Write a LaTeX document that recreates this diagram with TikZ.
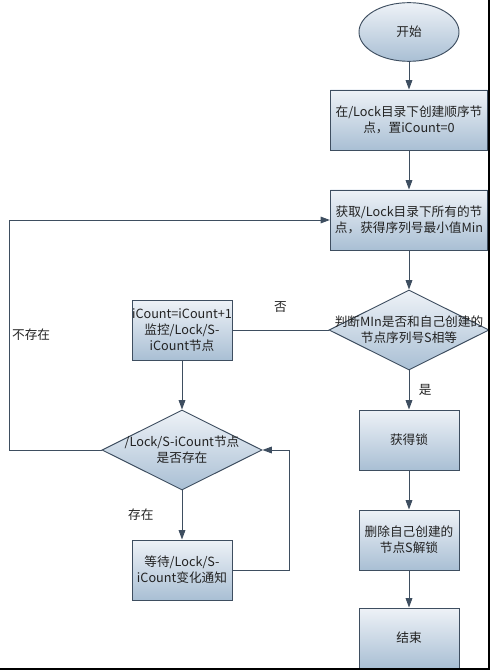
\documentclass[tikz,border=0pt]{standalone}
\usepackage{fontspec}
\setmainfont{Noto Sans CJK SC}
\usetikzlibrary{arrows.meta,shapes.geometric}
\definecolor{edgec}{HTML}{3E4E60}
\definecolor{filltop}{HTML}{EEF2F7}
\definecolor{fillbot}{HTML}{A9BFD4}
\definecolor{txtc}{HTML}{222222}

\begin{document}
\begin{tikzpicture}[>={Triangle[length=7pt,width=5pt]},x=0.75pt,y=-0.75pt,font=\fontsize{9.5}{12}\selectfont,
  proc/.style={draw=edgec,line width=0.7pt,top color=filltop,bottom color=fillbot,align=center,inner sep=0pt,minimum height=45pt,text=txtc},
  wide/.style={text width=118pt},
  narrow/.style={text width=75pt},
  decision/.style={draw=edgec,line width=0.7pt,diamond,top color=filltop,bottom color=fillbot,minimum width=120pt,minimum height=60pt,inner sep=0pt},
  terminal/.style={draw=edgec,line width=0.7pt,ellipse,top color=filltop,bottom color=fillbot,minimum width=75pt,minimum height=44pt,inner sep=0pt,text=txtc},
  link/.style={draw=edgec,line width=0.7pt},
  lbl/.style={text=txtc,align=center,inner sep=1pt}]
\useasboundingbox (0,0) rectangle (491,670);
% right column
\node[terminal] (start) at (409,32) {开始};
\node[proc,wide] (init) at (409,120) {在/Lock目录下创建顺序节\\点，置iCount=0};
\node[proc,wide] (fetch) at (409,220) {获取/Lock目录下所有的节\\点，获得序列号最小值Min};
\node[decision,label={[lbl]center:判断MIn是否和自己创建的\\节点序列号S相等}] (cmp) at (409,330) {};
\node[proc,narrow] (lock) at (409,440) {获得锁};
\node[proc,narrow] (del) at (409,540) {删除自己创建的\\节点S解锁};
\node[proc,narrow] (end) at (409,638) {结束};
% left column
\node[proc,narrow] (watch) at (182,330) {iCount=iCount+1\\监控/Lock/S-\\iCount节点};
\node[decision,label={[lbl]center:/Lock/S-iCount节点\\是否存在}] (exist) at (182,450) {};
\node[proc,narrow] (wait) at (182,570) {等待/Lock/S-\\iCount变化通知};
\coordinate (loopB) at (9,450);
\coordinate (loopT) at (9,220);
\coordinate (backR) at (289,570);

\draw[link,->] (start) -- (init);
\draw[link,->] (init) -- (fetch);
\draw[link,->] (fetch) -- (cmp);
\draw[link,->] (cmp) -- node[lbl,midway,right=6pt]{是} (lock);
\draw[link,->] (lock) -- (del);
\draw[link,->] (del) -- (end);
\draw[link] (cmp.west) -- node[lbl,midway,yshift=17pt]{否} (watch.east);
\draw[link,->] (watch) -- (exist);
\draw[link,->] (exist.west) -- (loopB) -- node[lbl,midway,right=1pt]{不存在} (loopT) -- (fetch.west);
\draw[link,->] (exist) -- node[lbl,midway,left=20pt]{存在} (wait);
\draw[link,->] (wait.east) -- (backR) |- (exist.east);
% frame edge
\draw[black,line width=1.5pt] (489,0) -- (489,669) -- (0,669);
\end{tikzpicture}
\end{document}
